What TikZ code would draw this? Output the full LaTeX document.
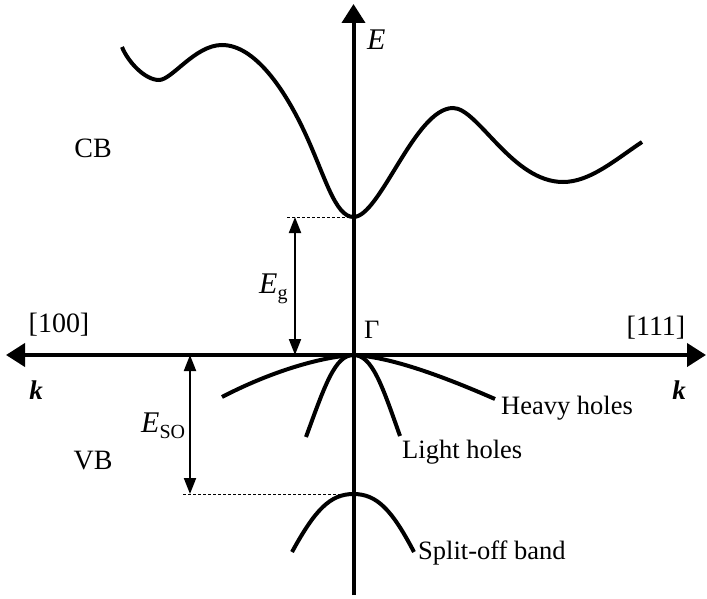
\documentclass[tikz,border=0pt]{standalone}
\usepackage{fontspec}
\setmainfont{Liberation Serif}
\usetikzlibrary{arrows.meta}
\tikzset{
  axis/.style={line width=4pt, {Triangle[length=19pt,width=23pt]}-{Triangle[length=19pt,width=23pt]}},
  vaxis/.style={line width=4pt, -{Triangle[length=19pt,width=23pt]}},
  band/.style={line width=4pt},
  gap/.style={line width=2pt, {Triangle[length=16pt,width=12pt]}-{Triangle[length=16pt,width=12pt]}},
  guide/.style={line width=0.8pt, dash pattern=on 3pt off 2pt},
  lbl/.style={inner sep=0pt, font=\fontsize{26.5}{30}\selectfont},
  big/.style={inner sep=0pt, font=\fontsize{28}{30}\selectfont},
}
\newcommand{\Elab}[1]{{\fontsize{30}{30}\selectfont\itshape E}\raisebox{-6pt}{\fontsize{20}{20}\selectfont #1}}
\begin{document}
\begin{tikzpicture}[x=1pt,y=-1pt]
\useasboundingbox (0,0) rectangle (707,599);
% axis coordinates
\coordinate (vb) at (353.5,595);
\coordinate (vt) at (353.5,4);
\coordinate (hl) at (6,355);
\coordinate (hr) at (706,355);
\coordinate (G) at (353.5,355);
\coordinate (cbmin) at (353.5,217);
\coordinate (somax) at (353.5,494);
\coordinate (eg1) at (295,217);
\coordinate (eg2) at (295,355);
\coordinate (eso1) at (190,355);
\coordinate (eso2) at (190,494);
\coordinate (dg) at (287,217);
\coordinate (dso) at (183,494);
% axes
\draw[vaxis] (vb) -- (vt);
\draw[axis] (hl) -- (hr);
% conduction band
\draw[band] (122,47) .. controls (128,62) and (145,80) .. (159,80)
  .. controls (172,80) and (195,45) .. (222,45)
  .. controls (255,45) and (285,90) .. (305,133)
  .. controls (325,176) and (335,217) .. (cbmin)
  .. controls (380,217) and (415,108) .. (453,108)
  .. controls (478,108) and (512,182) .. (563,182)
  .. controls (590,182) and (615,160) .. (642,142);
% heavy holes
\draw[band] (222,397) .. controls (270,372) and (320,357) .. (G)
  .. controls (390,357) and (440,375) .. (495,399);
% light holes
\draw[band] (306,437) .. controls (325,385) and (335,355) .. (G)
  .. controls (372,355) and (382,385) .. (400,436);
% split-off band
\draw[band] (292,552) .. controls (315,510) and (330,494) .. (somax)
  .. controls (377,494) and (392,510) .. (414,552);
% guides and gap arrows
\draw[guide] (dg) -- (cbmin);
\draw[guide] (dso) -- (somax);
\draw[gap] (eg1) -- (eg2);
\draw[gap] (eso1) -- (eso2);
% labels
\node[big] (cb) at (93,148) {CB};
\node[big] (vbl) at (93,461) {VB};
\node[inner sep=0pt, anchor=base west] (E) at (367,50) {{\fontsize{30}{30}\selectfont\itshape E}};
\node[inner sep=0pt, anchor=base west] (Eg) at (259,293) {\Elab{g}};
\node[inner sep=0pt, anchor=base west] (Eso) at (141,432) {\Elab{SO}};
\node[big] (d100) at (59,325) {[100]};
\node[big] (d111) at (656,328) {[111]};
\node[lbl, anchor=base west] (gam) at (364,338) {Γ};
\node[inner sep=0pt, font=\fontsize{27}{30}\selectfont\bfseries\itshape] (kl) at (36,390) {k};
\node[inner sep=0pt, font=\fontsize{27}{30}\selectfont\bfseries\itshape] (kr) at (679,390) {k};
\node[lbl, anchor=base west] (hh) at (501,414) {Heavy holes};
\node[lbl, anchor=base west] (lh) at (402,458) {Light holes};
\node[lbl, anchor=base west] (so) at (418,559) {Split-off band};
\end{tikzpicture}
\end{document}
